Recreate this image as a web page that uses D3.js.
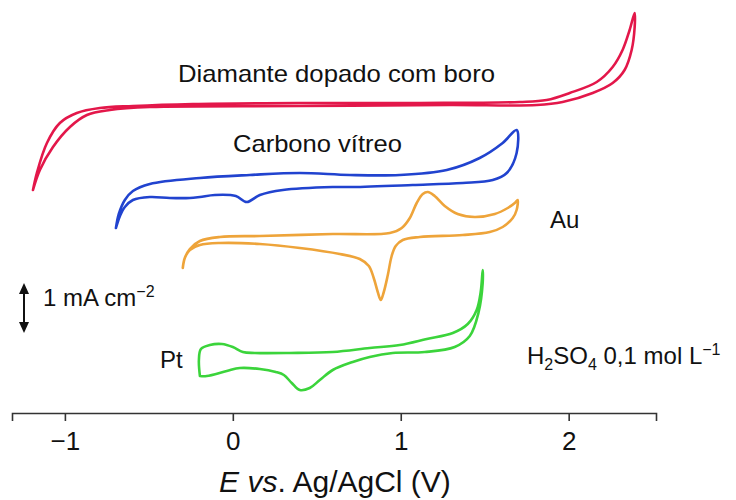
<!DOCTYPE html>
<html>
<head>
<meta charset="utf-8">
<script src="https://cdn.jsdelivr.net/npm/d3@7"></script>
<style>
  html,body{margin:0;padding:0;background:#fff;}
  svg{display:block;font-family:"Liberation Sans",Arial,Helvetica,sans-serif;}
</style>
</head>
<body>
<div id="chart"></div>
<script>
// Cyclic voltammograms, vertically offset (current values include the display offset, mA cm-2)
const bddE=[-1.190,-1.167,-1.107,-1.030,-0.929,-0.792,-0.595,-0.238,0.399,1.113,1.708,1.869,2.006,2.167,2.262,2.321,2.363,2.393,
  2.393,2.375,2.333,2.262,2.143,1.964,1.810,1.292,0.399,-0.494,-0.732,-0.869,-0.970,-1.071,-1.149,-1.190];
const bddI=[4.46,4.80,5.40,5.80,6.00,6.10,6.14,6.18,6.20,6.20,6.22,6.26,6.40,6.62,6.92,7.26,7.66,8.00,
  7.72,7.26,6.86,6.60,6.40,6.22,6.16,6.16,6.14,6.12,6.06,5.96,5.72,5.32,4.86,4.46];

const gcE=[-0.696,-0.679,-0.643,-0.595,-0.494,-0.196,0.101,0.399,0.696,0.994,1.274,1.470,1.607,1.690,
  1.690,1.631,1.548,1.369,1.071,0.714,0.595,0.298,0.161,0.083,0.018,-0.107,-0.196,-0.256,-0.375,-0.494,-0.595,-0.643,-0.672,-0.696];
const gcI=[3.70,3.98,4.26,4.44,4.58,4.70,4.76,4.80,4.76,4.76,4.86,5.10,5.40,5.66,
  5.20,4.80,4.66,4.60,4.56,4.52,4.52,4.46,4.36,4.22,4.34,4.36,4.32,4.30,4.30,4.32,4.26,4.12,3.94,3.70];

const auE=[-0.298,-0.286,-0.256,-0.196,-0.077,0.161,0.595,0.935,1.006,1.054,1.095,1.131,1.161,1.202,1.262,1.339,1.440,1.560,1.637,1.679,1.696,
  1.690,1.667,1.607,1.530,1.369,1.113,1.012,0.970,0.946,0.923,0.899,0.881,0.863,0.839,0.810,0.756,0.637,0.399,0.161,-0.077,-0.196,-0.256,-0.286,-0.298];
const auI=[2.90,3.10,3.28,3.44,3.52,3.54,3.58,3.60,3.70,3.90,4.20,4.38,4.42,4.34,4.14,3.98,3.92,3.98,4.10,4.20,4.26,
  4.06,3.90,3.72,3.62,3.56,3.52,3.46,3.34,3.14,2.76,2.42,2.26,2.42,2.70,2.94,3.08,3.18,3.30,3.38,3.40,3.36,3.26,3.10,2.90];

const ptE=[-0.196,-0.202,-0.190,-0.137,-0.065,0.000,0.060,0.131,0.339,0.595,0.815,0.994,1.155,1.310,1.399,1.452,1.476,1.488,
  1.488,1.464,1.411,1.321,1.143,0.952,0.815,0.714,0.595,0.518,0.458,0.399,0.351,0.304,0.256,0.161,0.042,-0.036,-0.155,-0.196];
const ptI=[0.74,1.06,1.28,1.36,1.38,1.32,1.22,1.20,1.20,1.22,1.30,1.36,1.48,1.60,1.78,2.06,2.42,2.86,
  2.60,2.02,1.54,1.32,1.22,1.20,1.12,1.02,0.86,0.66,0.50,0.46,0.60,0.76,0.82,0.88,0.90,0.84,0.74,0.74];

const xTicks=[-1,0,1,2];

(function(){
'use strict';
const W=736,H=500;
const svg=d3.select('#chart').append('svg').attr('width',W).attr('height',H);

const x=d3.scaleLinear().domain([-1.315,2.52]).range([12,656]);
const y=d3.scaleLinear().domain([0,8.26]).range([413,0]);

const series=[
  {E:bddE,I:bddI,color:'#e3174a'},
  {E:gcE,I:gcI,color:'#2143cf'},
  {E:auE,I:auI,color:'#eea43a'},
  {E:ptE,I:ptI,color:'#3bd43b'}
];

const line=d3.line().x(d=>x(d[0])).y(d=>y(d[1])).curve(d3.curveCatmullRom.alpha(0.5));
series.forEach(s=>{
  const pts=s.E.map((e,i)=>[e,s.I[i]]);
  svg.append('path').datum(pts).attr('d',line)
    .attr('fill','none').attr('stroke',s.color).attr('stroke-width',2.6)
    .attr('stroke-linejoin','round').attr('stroke-linecap','round');
});

// Axis
const ax=svg.append('g').attr('transform',`translate(0,${y(0)})`)
  .call(d3.axisBottom(x).tickValues(xTicks).tickFormat(d3.format('d'))
    .tickSizeOuter(0).tickSize(8).tickPadding(11));
ax.select('.domain').attr('stroke','#333').attr('stroke-width',1.6);
ax.selectAll('.tick line').attr('stroke','#333').attr('stroke-width',1.6);
ax.selectAll('.tick text').attr('fill','#111').style('font-size','26px')
  .style('font-family','"Liberation Sans",Arial,sans-serif');

const title=svg.append('text').attr('x',335).attr('y',492).attr('text-anchor','middle')
  .attr('fill','#111').style('font-size','30px');
title.append('tspan').style('font-style','italic').text('E');
title.append('tspan').text(' ');
title.append('tspan').style('font-style','italic').text('vs');
title.append('tspan').text('. Ag/AgCl (V)');

// Curve labels
svg.append('text').attr('x',178).attr('y',82).attr('fill','#111').style('font-size','24px')
  .attr('textLength',317).attr('lengthAdjust','spacingAndGlyphs').text('Diamante dopado com boro');
svg.append('text').attr('x',233).attr('y',152).attr('fill','#111').style('font-size','24px')
  .attr('textLength',169).attr('lengthAdjust','spacingAndGlyphs').text('Carbono vítreo');
svg.append('text').attr('x',550).attr('y',228).attr('fill','#111').style('font-size','24px').text('Au');
svg.append('text').attr('x',160).attr('y',368).attr('fill','#111').style('font-size','24px').text('Pt');

const h2=svg.append('text').attr('x',527).attr('y',364).attr('fill','#111').style('font-size','24px');
h2.append('tspan').text('H');
h2.append('tspan').attr('dy',6).style('font-size','16px').text('2');
h2.append('tspan').attr('dy',-6).text('SO');
h2.append('tspan').attr('dy',6).style('font-size','16px').text('4');
h2.append('tspan').attr('dy',-6).text(' 0,1 mol L');
h2.append('tspan').attr('dy',-9).style('font-size','16px').text('\u22121');

// Scale bar: 1 mA cm-2
const sx=24,s0=1.6,s1=2.6;
svg.append('line').attr('x1',sx).attr('x2',sx).attr('y1',y(s0)-6).attr('y2',y(s1)+6)
  .attr('stroke','#111').attr('stroke-width',2);
svg.append('path').attr('d',`M${sx},${y(s1)} l-5,11 l10,0 z`).attr('fill','#111');
svg.append('path').attr('d',`M${sx},${y(s0)} l-5,-11 l10,0 z`).attr('fill','#111');
const sb=svg.append('text').attr('x',43).attr('y',306).attr('fill','#111').style('font-size','24px');
sb.append('tspan').text('1 mA cm');
sb.append('tspan').attr('dy',-9).style('font-size','16px').text('\u22122');
})();
</script>
</body>
</html>
